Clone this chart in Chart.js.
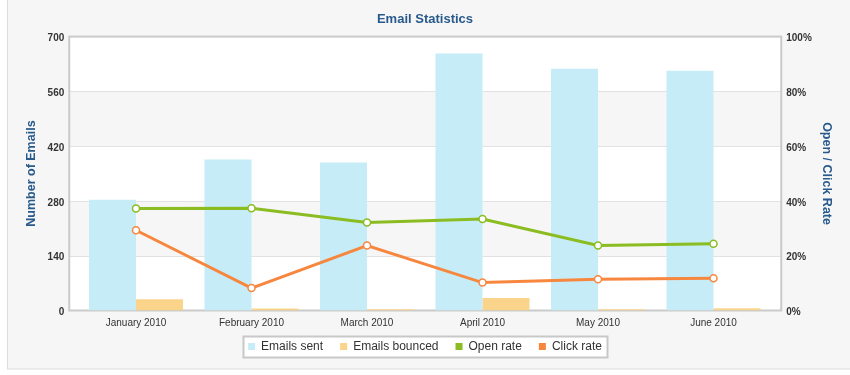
<!DOCTYPE html>
<html>
<head>
<meta charset="utf-8">
<title>Email Statistics</title>
<script src="https://cdn.jsdelivr.net/npm/chart.js@4.4.0/dist/chart.umd.min.js"></script>
<style>
  html, body { margin: 0; padding: 0; background: #fff; }
  #wrap { width: 850px; height: 375px; }
</style>
</head>
<body>
<div id="wrap"><canvas id="chart" width="850" height="375"></canvas></div>
<script>
// data
const months = ["January 2010", "February 2010", "March 2010", "April 2010", "May 2010", "June 2010"];
const emailsSent = [283, 386, 378, 657, 618, 613];
const emailsBounced = [29, 5, 3, 32, 3, 6];
const openRate = [37.2, 37.3, 32.1, 33.4, 23.7, 24.4];
const clickRate = [29.3, 8.2, 23.7, 10.2, 11.4, 11.8];
const emailTicks = [0, 140, 280, 420, 560, 700];
const rateTicks = [0, 20, 40, 60, 80, 100];

const FONT = "'Liberation Sans', Arial, Helvetica, sans-serif";
const BLUE = "#285a8c";

// the plot frame sticks out a little past the first/last category
const FRAME_L = 9;
const FRAME_R = 10;
// legend sits a bit closer to the axis labels than chart.js would put it
const LEGEND_SHIFT = -5;

const backdrop = {
  id: "backdrop",
  afterLayout(chart) {
    const lg = chart.legend;
    if (lg) {
      lg.top += LEGEND_SHIFT;
      lg.bottom += LEGEND_SHIFT;
    }
  },
  beforeDraw(chart) {
    const { ctx, chartArea: a } = chart;
    const yScale = chart.scales.y;
    ctx.save();
    ctx.fillStyle = "#fff";
    ctx.fillRect(0, 0, chart.width, chart.height);
    // outer panel
    ctx.fillStyle = "#f6f6f6";
    ctx.fillRect(7, -5, chart.width + 10, 374);
    ctx.strokeStyle = "#dcdcdc";
    ctx.lineWidth = 1;
    ctx.strokeRect(7.5, -5, chart.width + 10, 374);

    const left = a.left - FRAME_L;
    const right = a.right + FRAME_R;
    // alternating bands
    for (let i = 0; i < emailTicks.length - 1; i++) {
      const y0 = yScale.getPixelForValue(emailTicks[i]);
      const y1 = yScale.getPixelForValue(emailTicks[i + 1]);
      ctx.fillStyle = i % 2 === 1 ? "#f6f6f6" : "#ffffff";
      ctx.fillRect(left, y1, right - left, y0 - y1);
    }
    // grid lines
    ctx.strokeStyle = "#e2e2e2";
    ctx.lineWidth = 1;
    emailTicks.slice(1, -1).forEach((v) => {
      const y = Math.round(yScale.getPixelForValue(v)) + 0.5;
      ctx.beginPath();
      ctx.moveTo(left, y);
      ctx.lineTo(right, y);
      ctx.stroke();
    });
    // frame
    ctx.strokeStyle = "#cacaca";
    ctx.lineWidth = 2;
    ctx.strokeRect(left, a.top, right - left, a.bottom - a.top);

    // legend box
    const hb = chart.legend && chart.legend.legendHitBoxes;
    if (hb && hb.length) {
      const first = hb[0];
      const last = hb[hb.length - 1];
      const bx = Math.round(first.left - 5) + 0.5;
      const by = Math.round(first.top - 5) + 0.5;
      const bw = Math.round(last.left + last.width + 6 - bx);
      const bh = 21;
      ctx.fillStyle = "#fff";
      ctx.fillRect(bx, by, bw, bh);
      ctx.strokeStyle = "#c8c8c8";
      ctx.lineWidth = 2;
      ctx.strokeRect(bx, by, bw, bh);
    }
    ctx.restore();
  },
};

const ctx = document.getElementById("chart").getContext("2d");

new Chart(ctx, {
  type: "bar",
  data: {
    labels: months,
    datasets: [
      {
        label: "Emails sent",
        data: emailsSent,
        backgroundColor: "#c6ecf7",
        yAxisID: "y",
        order: 2,
      },
      {
        label: "Emails bounced",
        data: emailsBounced,
        backgroundColor: "#fbd48c",
        yAxisID: "y",
        order: 2,
      },
      {
        type: "line",
        label: "Open rate",
        data: openRate,
        borderColor: "#8bbc21",
        backgroundColor: "#8bbc21",
        borderWidth: 3,
        pointRadius: 3.5,
        pointBorderWidth: 1.5,
        pointBackgroundColor: "#fff",
        pointBorderColor: "#8bbc21",
        tension: 0,
        yAxisID: "y1",
        order: 1,
      },
      {
        type: "line",
        label: "Click rate",
        data: clickRate,
        borderColor: "#f7873f",
        backgroundColor: "#f7873f",
        borderWidth: 3,
        pointRadius: 3.5,
        pointBorderWidth: 1.5,
        pointBackgroundColor: "#fff",
        pointBorderColor: "#f7873f",
        tension: 0,
        yAxisID: "y1",
        order: 1,
      },
    ],
  },
  options: {
    responsive: false,
    animation: false,
    layout: { padding: { top: 0, bottom: 7.5, left: 0, right: 0 } },
    datasets: {
      bar: { categoryPercentage: 0.814, barPercentage: 1 },
    },
    scales: {
      x: {
        grid: { display: false, drawTicks: false },
        border: { display: false },
        ticks: { color: "#333", font: { family: FONT, size: 10 }, padding: 7, maxRotation: 0 },
        afterFit(scale) {
          scale.height = 18;
        },
      },
      y: {
        position: "left",
        min: 0,
        max: 700,
        grid: { display: false, drawTicks: false },
        border: { display: false },
        afterBuildTicks(scale) {
          scale.ticks = emailTicks.map((v) => ({ value: v }));
        },
        ticks: {
          color: "#333",
          font: { family: FONT, size: 10, weight: "bold" },
          padding: 14,
          labelOffset: 2,
        },
        title: {
          display: true,
          text: "Number of Emails",
          color: BLUE,
          font: { family: FONT, size: 12.5, weight: "bold" },
          padding: { top: 24, bottom: 0 },
        },
        afterFit(scale) {
          scale.width = 78.25;
        },
      },
      y1: {
        position: "right",
        min: 0,
        max: 100,
        grid: { display: false, drawTicks: false },
        border: { display: false },
        afterBuildTicks(scale) {
          scale.ticks = rateTicks.map((v) => ({ value: v }));
        },
        ticks: {
          color: "#333",
          font: { family: FONT, size: 10, weight: "bold" },
          padding: 15,
          labelOffset: 2,
          callback: (v) => v + "%",
        },
        title: {
          display: true,
          text: "Open / Click Rate",
          color: BLUE,
          font: { family: FONT, size: 12.5, weight: "bold" },
          padding: { top: 16, bottom: 0 },
        },
        afterFit(scale) {
          scale.width = 78.75;
        },
      },
    },
    plugins: {
      title: {
        display: true,
        text: "Email Statistics",
        color: BLUE,
        font: { family: FONT, size: 13, weight: "bold" },
        padding: { top: 12, bottom: 9 },
      },
      legend: {
        position: "bottom",
        labels: {
          boxWidth: 7,
          boxHeight: 7,
          padding: 17,
          color: "#333",
          font: { family: FONT, size: 12 },
          sort: (a, b) => a.datasetIndex - b.datasetIndex,
          // plain filled squares for every series, lines included
          generateLabels(chart) {
            return Chart.defaults.plugins.legend.labels.generateLabels(chart).map((item) => {
              item.fillStyle = chart.data.datasets[item.datasetIndex].backgroundColor;
              item.lineWidth = 0;
              item.strokeStyle = "rgba(0,0,0,0)";
              return item;
            });
          },
        },
      },
      tooltip: { enabled: false },
    },
  },
  plugins: [backdrop],
});
</script>
</body>
</html>
